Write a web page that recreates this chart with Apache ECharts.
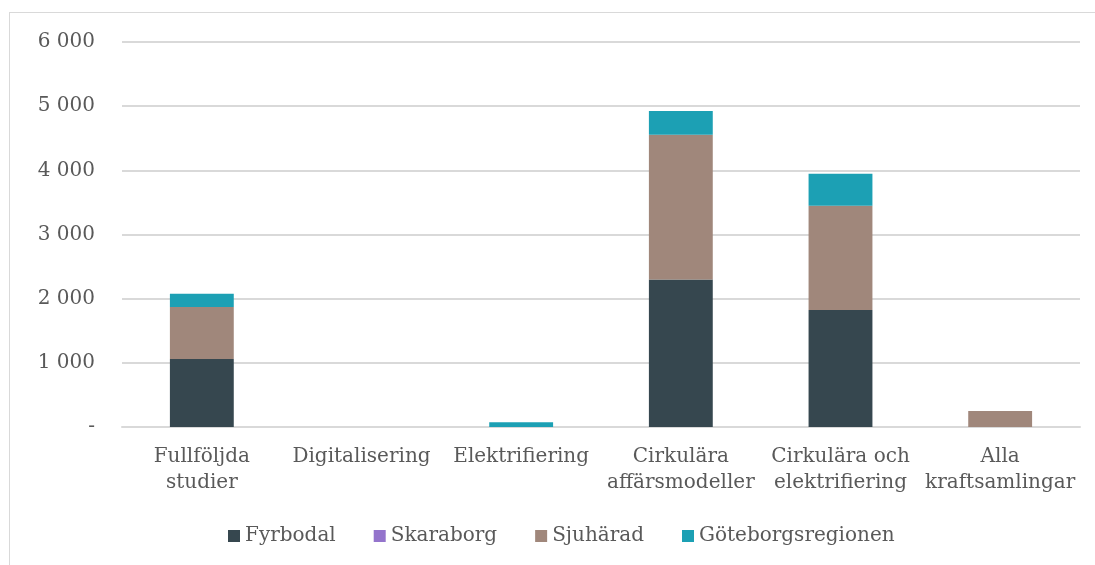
<!DOCTYPE html>
<html><head><meta charset="utf-8">
<script src="https://cdn.jsdelivr.net/npm/echarts@6/dist/echarts.min.js"></script>
<style>
html,body{margin:0;padding:0;background:#fff;}
#frame{position:absolute;left:9px;top:12px;width:1100px;height:600px;border:1px solid #d9d9d9;box-sizing:border-box;}
#c{position:absolute;left:0;top:0;width:1095px;height:565px;}
</style></head>
<body><div id="frame"></div><div id="c"></div>
<script>
const categories = ['Fullföljda\nstudier','Digitalisering','Elektrifiering','Cirkulära\naffärsmodeller','Cirkulära och\nelektrifiering','Alla\nkraftsamlingar'];
const fyrbodal = [1060, 0, 0, 2300, 1825, 0];
const skaraborg = [0, 0, 0, 0, 0, 0];
const sjuharad = [810, 0, 0, 2255, 1625, 250];
const goteborg = [205, 0, 75, 370, 495, 0];
const yTicks = [0, 1000, 2000, 3000, 4000, 5000, 6000];

const font = 'DejaVu Serif, Georgia, serif';
const names = ['Fyrbodal','Skaraborg','Sjuhärad','Göteborgsregionen'];
const colors = ['#36474f','#9474cc','#a0877b','#1ca0b4'];
const data = [fyrbodal, skaraborg, sjuharad, goteborg];
const chart = echarts.init(document.getElementById('c'));
chart.setOption({
  animation:false,
  textStyle:{fontFamily:font},
  grid:{left:122,right:15,top:42,bottom:138},
  legend:{bottom:19,left:228,padding:0,itemWidth:12,itemHeight:12,itemGap:38,icon:'rect',
    textStyle:{fontFamily:font,fontSize:20,color:'#595959'},data:names},
  xAxis:{type:'category',data:categories,
    axisLine:{lineStyle:{color:'#d9d9d9',width:2}},axisTick:{show:false},
    axisLabel:{fontFamily:font,fontSize:20,color:'#595959',lineHeight:26,margin:17,interval:0}},
  yAxis:{type:'value',min:0,max:6000,interval:1000,
    axisLine:{show:false},axisTick:{show:false},
    splitLine:{lineStyle:{color:'#d9d9d9',width:2}},
    axisLabel:{fontFamily:font,fontSize:20,color:'#595959',margin:27,
      formatter:v=> v===0 ? '-' : (v/1000)+' 000'}},
  series: names.map((n,i)=>({name:n,type:'bar',stack:'a',barWidth:'40%',data:data[i],
    itemStyle:{color:colors[i]}}))
});
</script></body></html>
